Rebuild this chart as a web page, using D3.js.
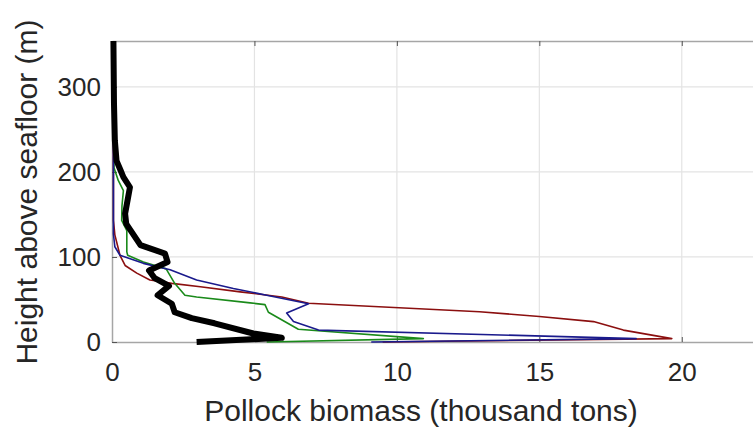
<!DOCTYPE html>
<html lang="en">
	<head>
		<meta charset="utf-8">
		<title>Pollock biomass profile</title>
		<script type="text/javascript" src="https://cdn.jsdelivr.net/npm/d3@7"></script>
		<style type="text/css">
			body {
				margin: 0;
				background: #fff;
			}
			.tick text {
				font-family: "Liberation Sans", Arial, Helvetica, sans-serif;
				font-size: 26px;
				fill: #262626;
			}
			.label {
				font-family: "Liberation Sans", Arial, Helvetica, sans-serif;
				font-size: 30px;
				fill: #262626;
				text-anchor: middle;
			}
		</style>
	</head>
	<body>
		<script type="text/javascript">

			var w = 753;
			var h = 433;

			// height above seafloor (m) and biomass (thousand tons) for each profile
			var redHeight  = [0, 4, 14, 24, 30, 35.6, 45.5, 53, 59, 65, 69, 73, 81, 90, 102, 126, 143, 354];
			var redBiomass = [9.5, 19.65, 17.95, 16.9, 15.0, 12.9, 6.9, 5.96, 4.5, 3.1, 2.1, 1.33, 0.87, 0.46, 0.28, 0.1, 0.05, 0.05];

			var blueHeight  = [0, 4, 14, 24, 34, 45, 55, 63, 73, 85, 92.5, 102, 112, 127, 354];
			var blueBiomass = [9.1, 18.4, 7.25, 6.37, 6.13, 6.9, 5.43, 4.26, 2.97, 2.04, 1.1, 0.28, 0.1, 0.05, 0.05];

			var greenHeight  = [0, 4, 15, 35, 44, 46, 53, 55, 69, 86, 94, 102, 106, 131, 143, 160, 178, 190, 205, 354];
			var greenBiomass = [5.43, 10.93, 6.54, 5.49, 5.37, 4.85, 2.97, 2.56, 2.2, 1.9, 1.1, 0.55, 0.52, 0.52, 0.34, 0.35, 0.4, 0.22, 0.07, 0.05];

			var blackHeight  = [0, 5, 10, 22, 28, 35, 45, 55, 66, 75, 84, 94, 104, 114, 124, 139, 151, 171, 182, 194, 202, 213, 237, 280, 354];
			var blackBiomass = [2.97, 5.96, 4.96, 3.6, 2.8, 2.2, 2.1, 1.6, 2.0, 1.5, 1.3, 1.95, 1.86, 1.0, 0.8, 0.5, 0.46, 0.57, 0.63, 0.4, 0.3, 0.16, 0.1, 0.07, 0.05];

			var xTicks = [0, 5, 10, 15, 20];
			var yTicks = [0, 100, 200, 300];

			var series = [
				{ hgt: redHeight,   val: redBiomass,   color: "#8b0f0f", width: 1.6 },
				{ hgt: greenHeight, val: greenBiomass, color: "#1a8a1a", width: 1.6 },
				{ hgt: blueHeight,  val: blueBiomass,  color: "#1a1a8c", width: 1.6 },
				{ hgt: blackHeight, val: blackBiomass, color: "#000000", width: 6 }
			];

			var plotLeft = 112, plotRight = 753, plotTop = 41, plotBottom = 342;

			var x = d3.scaleLinear().domain([0, 22.5]).range([plotLeft, plotRight]);
			var y = d3.scaleLinear().domain([0, 354]).range([plotBottom, plotTop]);

			var svg = d3.select("body")
				.append("svg")
				.attr("width", w)
				.attr("height", h);

			// grid
			svg.append("g")
				.selectAll("line")
				.data(xTicks.slice(1))
				.enter()
				.append("line")
				.attr("x1", function(d) { return x(d); })
				.attr("x2", function(d) { return x(d); })
				.attr("y1", plotTop)
				.attr("y2", plotBottom)
				.attr("stroke", "#e3e3e3")
				.attr("stroke-width", 1.2);

			svg.append("g")
				.selectAll("line")
				.data(yTicks.slice(1))
				.enter()
				.append("line")
				.attr("x1", plotLeft)
				.attr("x2", plotRight)
				.attr("y1", function(d) { return y(d); })
				.attr("y2", function(d) { return y(d); })
				.attr("stroke", "#e3e3e3")
				.attr("stroke-width", 1.2);

			// top border with inward ticks
			svg.append("g")
				.attr("transform", "translate(0," + plotTop + ")")
				.call(d3.axisBottom(x).tickValues(xTicks).tickSize(5).tickSizeOuter(0).tickFormat(""))
				.call(function(g) {
					g.select(".domain").attr("stroke", "#a6a6a6").attr("stroke-width", 1.5);
					g.selectAll(".tick line").attr("stroke", "#555");
				});

			// x axis
			svg.append("g")
				.attr("transform", "translate(0," + plotBottom + ")")
				.call(d3.axisTop(x).tickValues(xTicks).tickSize(5).tickSizeOuter(0).tickPadding(0))
				.call(function(g) {
					g.select(".domain").attr("stroke", "#a6a6a6").attr("stroke-width", 1.5);
					g.selectAll(".tick line").attr("stroke", "#555");
					g.selectAll(".tick text").attr("y", 39);
				});

			// y axis
			svg.append("g")
				.attr("transform", "translate(" + plotLeft + ",0)")
				.call(d3.axisRight(y).tickValues(yTicks).tickSize(5).tickSizeOuter(0))
				.call(function(g) {
					g.select(".domain").attr("stroke", "#a6a6a6").attr("stroke-width", 1.5);
					g.selectAll(".tick line").attr("stroke", "#555");
					g.selectAll(".tick text")
						.attr("x", -11)
						.attr("text-anchor", "end");
				});

			var line = d3.line()
				.x(function(d) { return x(d[1]); })
				.y(function(d) { return y(d[0]); });

			svg.append("g")
				.selectAll("path")
				.data(series)
				.enter()
				.append("path")
				.attr("d", function(s) { return line(d3.zip(s.hgt, s.val)); })
				.attr("fill", "none")
				.attr("stroke", function(s) { return s.color; })
				.attr("stroke-width", function(s) { return s.width; })
				.attr("stroke-linejoin", "round");

			// labels
			svg.append("text")
				.attr("class", "label")
				.attr("x", 421)
				.attr("y", 421)
				.text("Pollock biomass (thousand tons)");

			svg.append("text")
				.attr("class", "label")
				.attr("transform", "translate(37,192) rotate(-90)")
				.text("Height above seafloor (m)");

		</script>
	</body>
</html>
